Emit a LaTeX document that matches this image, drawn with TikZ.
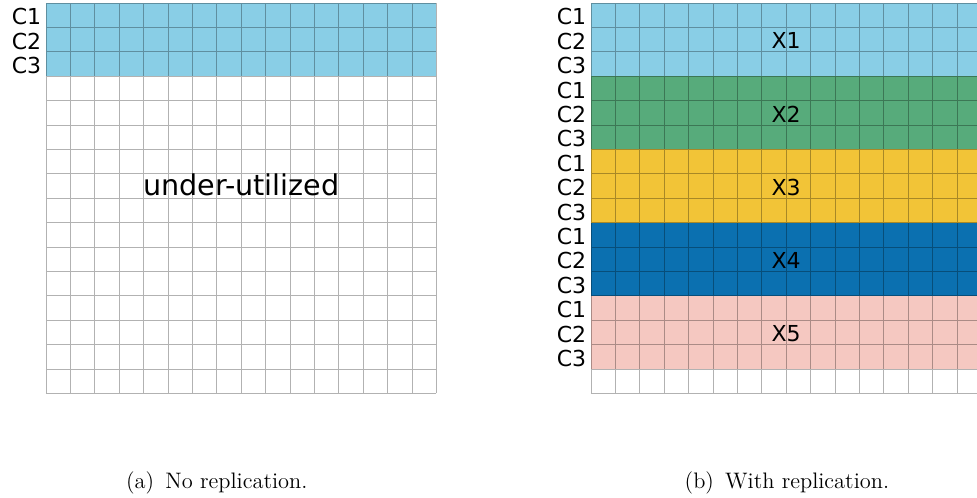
\documentclass[tikz,border=0pt]{standalone}
\usepackage{fontspec}
\usepackage{tikz}
\newfontfamily\labelfont{DejaVu Sans}
\definecolor{repblue}{HTML}{89CEE6}
\definecolor{repgreen}{HTML}{57AB7B}
\definecolor{repyellow}{HTML}{F2C437}
\definecolor{repdark}{HTML}{0B70B0}
\definecolor{reppink}{HTML}{F5C8C1}

\begin{document}
\begin{tikzpicture}[x=12.2pt,y=12.2pt,
  gridline/.style={line width=0.45pt,black,opacity=0.3},
  rowlabel/.style={anchor=base east,inner sep=1pt,font=\labelfont\fontsize{11}{11}\selectfont},
  grouplabel/.style={anchor=base,inner sep=1pt,font=\labelfont\fontsize{11}{11}\selectfont},
  subcap/.style={anchor=base,font=\fontsize{11.2}{13}\selectfont}]
  \useasboundingbox (-1.885,-4.287) rectangle (38.156,16.123);
  % (a) ohne Replikation
  \fill[repblue] (0,13) rectangle (16,16);
  \draw[gridline,step=1] (0,0) grid (16,16);
  \foreach \c in {1,2,3}
    \node[rowlabel] (la\c) at (-0.1,16.1-\c) {C\c};
  \node[anchor=base,font=\labelfont\fontsize{14.3}{14.3}\selectfont] (idle) at (8,8.09) {under-utilized};
  \node[subcap] (capa) at (7.0,-3.9) {(a)\enskip No replication.};
  % (b) mit Replikation: fuenf Kopien X1..X5 untereinander
  \begin{scope}[shift={(22.336,0)}]
    \foreach \col [count=\k] in {repblue,repgreen,repyellow,repdark,reppink} {
      \fill[\col] (0,16-3*\k) rectangle (16,19-3*\k);
      \foreach \c in {1,2,3}
        \node[rowlabel] (lb\k\c) at (-0.1,19.1-3*\k-\c) {C\c};
      \node[grouplabel] (x\k) at (8,17.12-3*\k) {X\k};
    }
    \draw[gridline,step=1] (0,0) grid (16,16);
    \node[subcap] (capb) at (8.03,-3.9) {(b)\enskip With replication.};
  \end{scope}
\end{tikzpicture}
\end{document}
